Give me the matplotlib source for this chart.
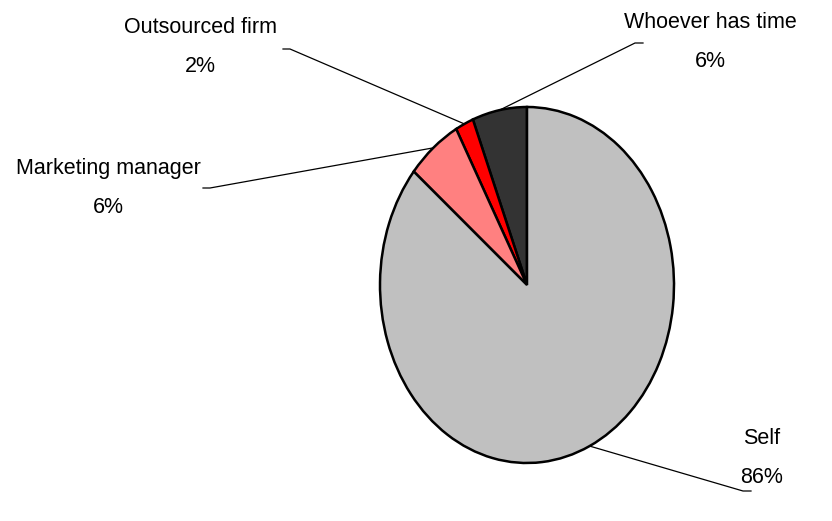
import matplotlib
matplotlib.use("Agg")
import matplotlib.pyplot as plt
from matplotlib import font_manager
import numpy as np

categories = ["Whoever has time", "Outsourced firm", "Marketing manager", "Self"]
values = [6, 2, 6, 86]
colors = ["#333333", "#FF0000", "#FF8080", "#C0C0C0"]

names = {f.name for f in font_manager.fontManager.ttflist}
fam = "Liberation Sans Narrow" if "Liberation Sans Narrow" in names else "Liberation Sans"
plt.rcParams["font.family"] = [fam, "DejaVu Sans"]

W, H = 832, 521
fig = plt.figure(figsize=(W / 100, H / 100), dpi=100)
cx, cy, rx, ry = 527, 285, 147, 178
ax = fig.add_axes([(cx - rx) / W, (H - cy - ry) / H, 2 * rx / W, 2 * ry / H])
wedges, _ = ax.pie(values, colors=colors, startangle=90, counterclock=True,
                   wedgeprops=dict(edgecolor="black", linewidth=1.8))
ax.set_xlim(-1, 1)
ax.set_ylim(-1, 1)
ax.set_aspect("auto")
ax.axis("off")

def px2data(px, py):
    return (px - cx) / rx, (cy - py) / ry

# label text center (px), leader start (px), short horizontal end (px)
label_layout = {
    "Outsourced firm": ((200, 47), (283, 49), (290, 49)),
    "Marketing manager": ((108, 188), (203, 188), (210, 188)),
    "Whoever has time": ((710, 42), (643, 43), (635, 43)),
    "Self": ((762, 458), (751, 491), (743, 491)),
}

total = sum(values)
for w, cat, v in zip(wedges, categories, values):
    mid = np.deg2rad((w.theta1 + w.theta2) / 2)
    ex, ey = np.cos(mid), np.sin(mid)
    (tx, ty), (s1x, s1y), (s2x, s2y) = label_layout[cat]
    a = px2data(s1x, s1y)
    b = px2data(s2x, s2y)
    ax.plot([a[0], b[0], ex], [a[1], b[1], ey], color="black", lw=0.9,
            clip_on=False, solid_joinstyle="miter")
    t = px2data(tx, ty)
    ax.text(t[0], t[1], f"{cat}\n{round(100 * v / total)}%", ha="center",
            va="center", fontsize=15.5, linespacing=2.08, clip_on=False)

fig.savefig("out.png", dpi=100)
